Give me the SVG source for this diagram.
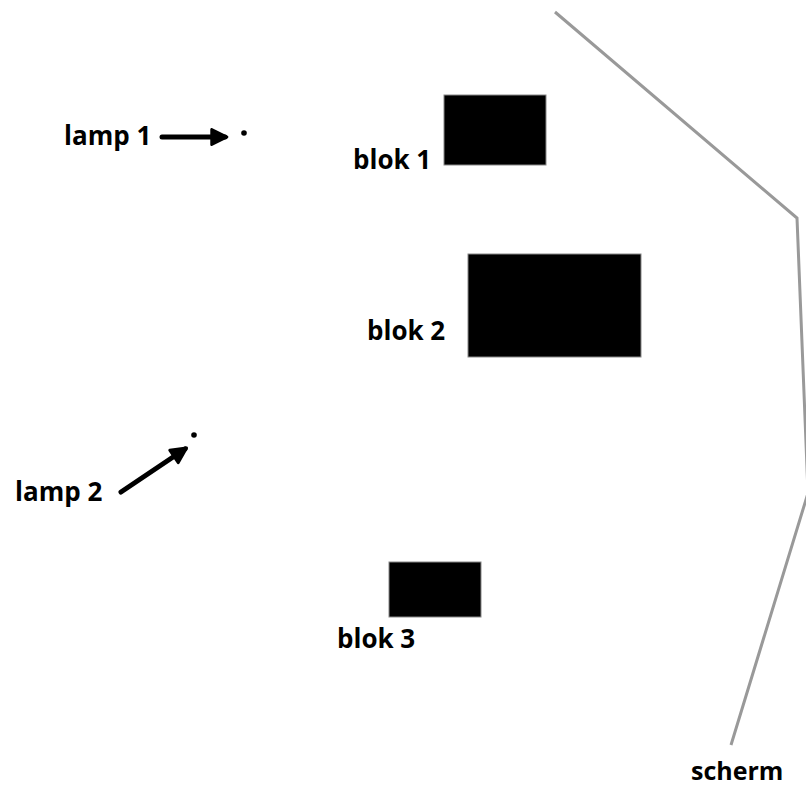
<svg xmlns="http://www.w3.org/2000/svg" width="806" height="787" viewBox="0 0 806 787">
<defs>
<style>
.lbl{font-family:"Open Sans","Liberation Sans",sans-serif;font-weight:bold;font-size:26px;fill:#000}
.blk{fill:#000;stroke:#888;stroke-width:1}
.arr{stroke:#000;stroke-width:5;stroke-linecap:round;fill:none}
.scr{stroke:#999;stroke-width:3;fill:none}
</style>
<marker id="ah" viewBox="0 0 10 10" refX="8" refY="5" markerWidth="3.8" markerHeight="3.8" orient="auto" markerUnits="strokeWidth">
<path d="M1,1 L9,5 L1,9 Z" fill="#000" stroke="#000" stroke-width="1.5" stroke-linejoin="round"/>
</marker>
</defs>
<rect width="806" height="787" fill="#fff"/>
<g id="scherm">
<polyline class="scr" points="555,12 797,218 808,493 731,745"/>
<text class="lbl" x="691" y="780" style="font-size:25px">scherm</text>
</g>
<g id="blok1">
<rect class="blk" x="444" y="95" width="102" height="70"/>
<text class="lbl" x="353" y="169">blok 1</text>
</g>
<g id="blok2">
<rect class="blk" x="468" y="254" width="173" height="103"/>
<text class="lbl" x="367" y="340">blok 2</text>
</g>
<g id="blok3">
<rect class="blk" x="389" y="562" width="92" height="55"/>
<text class="lbl" x="337" y="648">blok 3</text>
</g>
<g id="lamp1">
<text class="lbl" x="64" y="145">lamp 1</text>
<circle cx="244" cy="133" r="2.8" fill="#000"/>
</g>
<g id="lamp2">
<text class="lbl" x="15" y="501">lamp 2</text>
<circle cx="194" cy="435" r="2.8" fill="#000"/>
</g>
<g id="connectors">
<line class="arr" x1="162" y1="137" x2="225" y2="137" marker-end="url(#ah)"/>
<line class="arr" x1="121" y1="492" x2="185" y2="449" marker-end="url(#ah)"/>
</g>
</svg>
